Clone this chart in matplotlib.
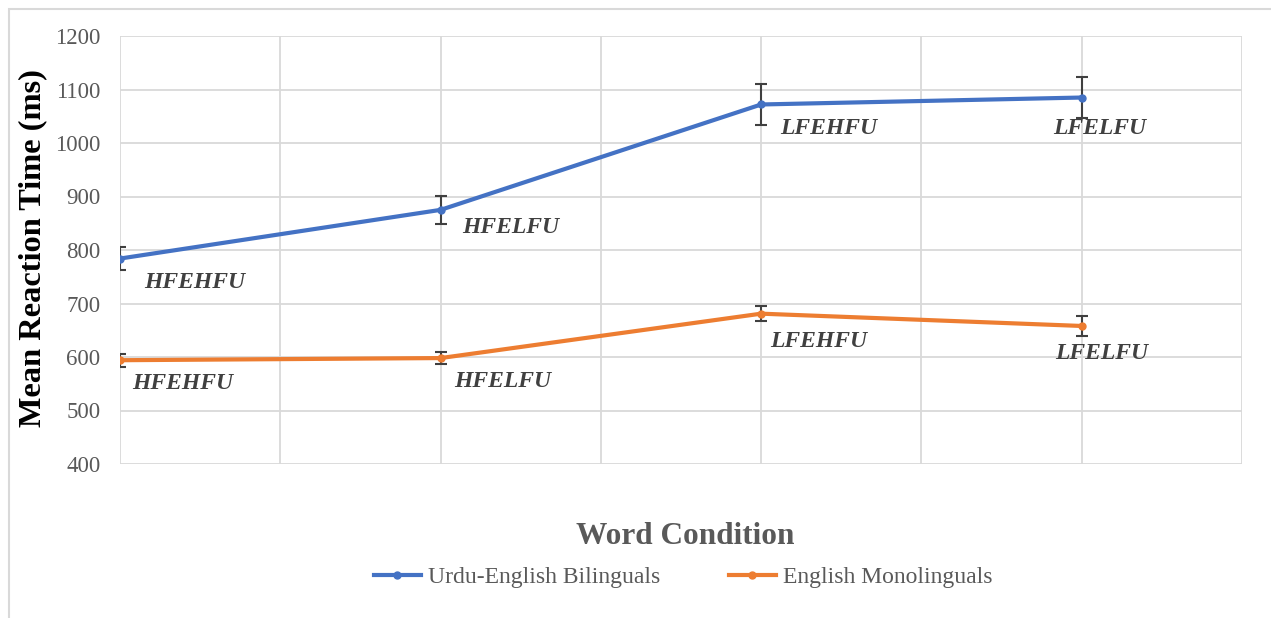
import matplotlib
matplotlib.use("Agg")
import matplotlib.pyplot as plt
from matplotlib.patches import Rectangle
from matplotlib.lines import Line2D

conditions = ["HFEHFU", "HFELFU", "LFEHFU", "LFELFU"]
bilingual_rt = [784, 875, 1072, 1085]
bilingual_err = [22, 26, 39, 39]
monolingual_rt = [594, 598, 681, 658]
monolingual_err = [12, 11, 14, 19]
series_names = ["Urdu-English Bilinguals", "English Monolinguals"]
y_ticks = [400, 500, 600, 700, 800, 900, 1000, 1100, 1200]

W, H = 1271, 618
fig = plt.figure(figsize=(W / 100, H / 100), dpi=100)
fig.patch.set_facecolor("white")
fig.add_artist(Rectangle((9 / W, -0.1), 1.2, 1 - 9 / H + 0.1, transform=fig.transFigure,
                         fill=False, edgecolor="#d9d9d9", lw=1.5))

ax = fig.add_axes([120 / W, 1 - 464 / H, (1242 - 120) / W, (464 - 36) / H])
serif = "Liberation Serif"
blue = "#4472c4"
orange = "#ed7d31"
xs = list(range(len(conditions)))

for vals, errs, col in [(bilingual_rt, bilingual_err, blue), (monolingual_rt, monolingual_err, orange)]:
    ax.errorbar(xs, vals, yerr=errs, color=col, lw=3, marker="o", ms=5,
                ecolor="#404040", elinewidth=1.5, capsize=4.5, capthick=1.5, zorder=3)

ax.set_xlim(0, 3.5)
ax.set_ylim(400, 1200)
ax.set_yticks(y_ticks)
ax.set_xticks([0, 0.5, 1, 1.5, 2, 2.5, 3, 3.5])
ax.set_xticklabels([])
ax.tick_params(axis="x", length=0)
ax.tick_params(axis="y", length=0, pad=14, labelsize=16.5, labelcolor="#595959")
for lab in ax.get_yticklabels():
    lab.set_fontfamily(serif)
ax.grid(True, color="#d9d9d9", lw=1.3)
ax.set_axisbelow(True)
for s in ax.spines.values():
    s.set_visible(False)

# data labels (offsets in pixels)
bi_offsets = [(75, -24), (70, -18), (68, -24), (18, -31)]
mono_offsets = [(63, -23), (62, -23), (58, -28), (20, -28)]
label_kw = dict(textcoords="offset pixels", ha="center", va="center", fontsize=17,
                fontweight="bold", fontstyle="italic", color="#404040", family=serif, zorder=4)
for x, v, lab, off in zip(xs, bilingual_rt, conditions, bi_offsets):
    ax.annotate(lab, (x, v), xytext=off, **label_kw)
for x, v, lab, off in zip(xs, monolingual_rt, conditions, mono_offsets):
    ax.annotate(lab, (x, v), xytext=off, **label_kw)

fig.text(33 / W, 1 - 248 / H, "Mean Reaction Time (ms)", rotation=90, ha="center", va="center",
         fontsize=23.3, fontweight="bold", family=serif, color="black")
fig.text(685 / W, 1 - 536 / H, "Word Condition", ha="center", va="center",
         fontsize=22.5, fontweight="bold", family=serif, color="#595959")

handles = [Line2D([], [], color=blue, lw=3, marker="o", ms=5),
           Line2D([], [], color=orange, lw=3, marker="o", ms=5)]
leg = fig.legend(handles, series_names, loc="center", bbox_to_anchor=(683 / W, 1 - 577 / H),
                 ncol=2, frameon=False, prop={"family": serif, "size": 17},
                 handlelength=2.0, handletextpad=0.3, columnspacing=2.9, borderaxespad=0)
for t in leg.get_texts():
    t.set_color("#595959")

fig.savefig("out.png", dpi=100)
